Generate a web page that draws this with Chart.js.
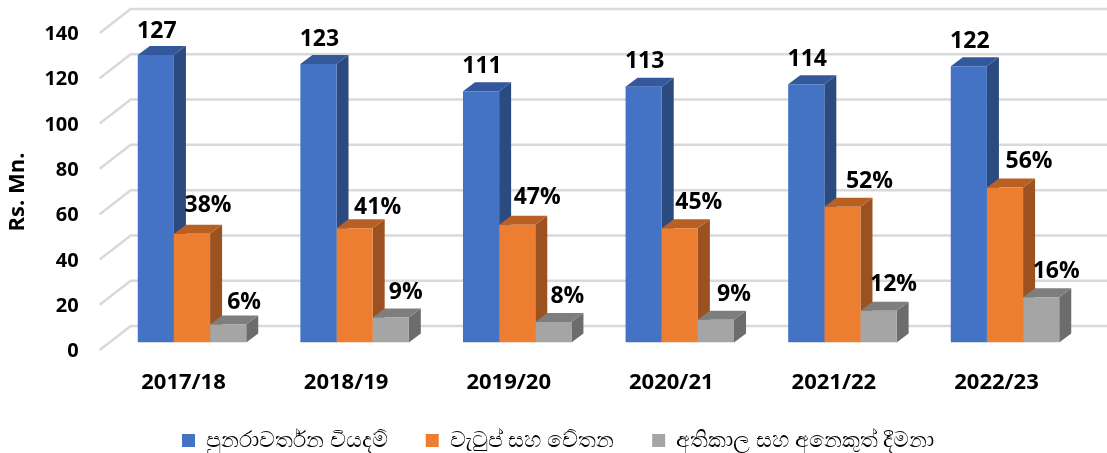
<!DOCTYPE html>
<html>
<head>
<meta charset="utf-8">
<script src="https://cdn.jsdelivr.net/npm/chart.js@4"></script>
<style>
  html, body { margin: 0; background: #fff; }
  #wrap { width: 1107px; height: 453px; }
</style>
</head>
<body>
<div id="wrap"><canvas id="costChart" width="1107" height="453"></canvas></div>
<script>
const years = ["2017/18", "2018/19", "2019/20", "2020/21", "2021/22", "2022/23"];
const recurrent = [127, 123, 111, 113, 114, 122];
const salaries = [48, 50.5, 52, 50.5, 60, 68.5];
const overtime = [8, 11, 9, 10, 14, 20];
const salaryShare = ["38%", "41%", "47%", "45%", "52%", "56%"];
const overtimeShare = ["6%", "9%", "8%", "9%", "12%", "16%"];
const yTicks = [0, 20, 40, 60, 80, 100, 120, 140];

const FONT = "'Open Sans', 'Noto Sans', sans-serif";

// fake 3d depth, in pixels
const DEPTH_X = 12, DEPTH_Y = 9;

const faces = [
  { side: "#2a4a80", top: "#33599c" },
  { side: "#9b5220", top: "#b85f24" },
  { side: "#6c6c6c", top: "#7e7e7e" }
];

// label nudges from the bar centre / bar top
const labelNudge = [
  { dx: [1, 1, 1, 1, 1, 1], dy: [-23, -25, -25, -25, -25, -25] },
  { dx: [16, 23, 20, 19, 27, 24], dy: [-28, -21, -27, -26, -25, -26] },
  { dx: [16, 15, 14, 18, 15, 15], dy: [-22, -25, -26, -25, -26, -26] }
];

// back wall lines, then the side and top of every bar.
// the library paints the front faces over all of this afterwards
const backdrop = {
  id: "backdrop",
  beforeDatasetsDraw(chart) {
    const ctx = chart.ctx, y = chart.scales.y, area = chart.chartArea;
    ctx.save();
    ctx.strokeStyle = "#d9d9d9";
    ctx.lineWidth = 2.5;
    yTicks.forEach(v => {
      const py = y.getPixelForValue(v);
      ctx.beginPath();
      ctx.moveTo(area.left - 11, py + 7.5);
      ctx.lineTo(area.left + 20, py - 16.5);
      ctx.lineTo(1107, py - 16.5);
      ctx.stroke();
    });
    faces.forEach((f, d) => {
      chart.getDatasetMeta(d).data.forEach(bar => {
        const x1 = bar.x + bar.width / 2, x0 = bar.x - bar.width / 2;
        ctx.fillStyle = f.side;
        ctx.beginPath();
        ctx.moveTo(x1, bar.y);
        ctx.lineTo(x1 + DEPTH_X, bar.y - DEPTH_Y);
        ctx.lineTo(x1 + DEPTH_X, bar.base - DEPTH_Y);
        ctx.lineTo(x1, bar.base);
        ctx.closePath();
        ctx.fill();
        ctx.fillStyle = f.top;
        ctx.beginPath();
        ctx.moveTo(x0, bar.y);
        ctx.lineTo(x0 + DEPTH_X, bar.y - DEPTH_Y);
        ctx.lineTo(x1 + DEPTH_X, bar.y - DEPTH_Y);
        ctx.lineTo(x1, bar.y);
        ctx.closePath();
        ctx.fill();
      });
    });
    ctx.restore();
  }
};

const valueLabels = {
  id: "valueLabels",
  afterDatasetsDraw(chart) {
    const ctx = chart.ctx;
    const texts = [recurrent.map(String), salaryShare, overtimeShare];
    ctx.save();
    ctx.fillStyle = "#000";
    ctx.textAlign = "center";
    ctx.textBaseline = "middle";
    ctx.font = "bold 23px " + FONT;
    texts.forEach((list, d) => {
      chart.getDatasetMeta(d).data.forEach((bar, i) => {
        ctx.fillText(list[i], bar.x + labelNudge[d].dx[i], bar.y + labelNudge[d].dy[i]);
      });
    });
    // axis title sits a little under the centre of the scale, so it goes here
    ctx.translate(18, 192);
    ctx.rotate(-Math.PI / 2);
    ctx.font = "bold 22px " + FONT;
    ctx.fillText("Rs. Mn.", 0, 0);
    ctx.restore();
  }
};

new Chart(document.getElementById("costChart"), {
  type: "bar",
  data: {
    labels: years,
    datasets: [
      { label: "පුනරාවර්තන වියදම්", data: recurrent, backgroundColor: "#4472c4" },
      { label: "වැටුප් සහ වේතන", data: salaries, backgroundColor: "#ed7d31" },
      { label: "අතිකාල සහ අනෙකුත් දීමනා", data: overtime, backgroundColor: "#a5a5a5" }
    ]
  },
  options: {
    responsive: false,
    animation: false,
    // legend gap comes from labels.padding, which also pads it vertically, hence the negative bottom
    layout: { padding: { top: 25.5, right: 20.7, bottom: -8.5, left: 30 } },
    datasets: { bar: { categoryPercentage: 0.667, barPercentage: 1 } },
    scales: {
      x: {
        grid: { display: false },
        border: { display: false },
        ticks: {
          color: "#000",
          padding: 19,
          labelOffset: -8.5,
          maxRotation: 0,
          font: { family: FONT, size: 22, weight: "bold" }
        },
        afterFit(scale) { scale.height = 119 - scale.chart.legend.height; }
      },
      y: {
        min: 0,
        max: 140,
        grid: { display: false },
        border: { display: false },
        ticks: {
          color: "#000",
          stepSize: 20,
          padding: 24,
          labelOffset: 9,
          font: { family: FONT, size: 20, weight: "bold" }
        },
        afterFit(scale) {
          scale.width = 80.7;
          scale.paddingTop = 0;
          scale.paddingBottom = 0;
        }
      }
    },
    plugins: {
      tooltip: { enabled: false },
      legend: {
        position: "bottom",
        labels: {
          color: "#000",
          usePointStyle: true,
          pointStyle: "rect",
          boxWidth: 13,
          boxHeight: 13,
          padding: 38,
          font: { family: FONT, size: 22 }
        }
      }
    }
  },
  plugins: [backdrop, valueLabels]
});
</script>
</body>
</html>
